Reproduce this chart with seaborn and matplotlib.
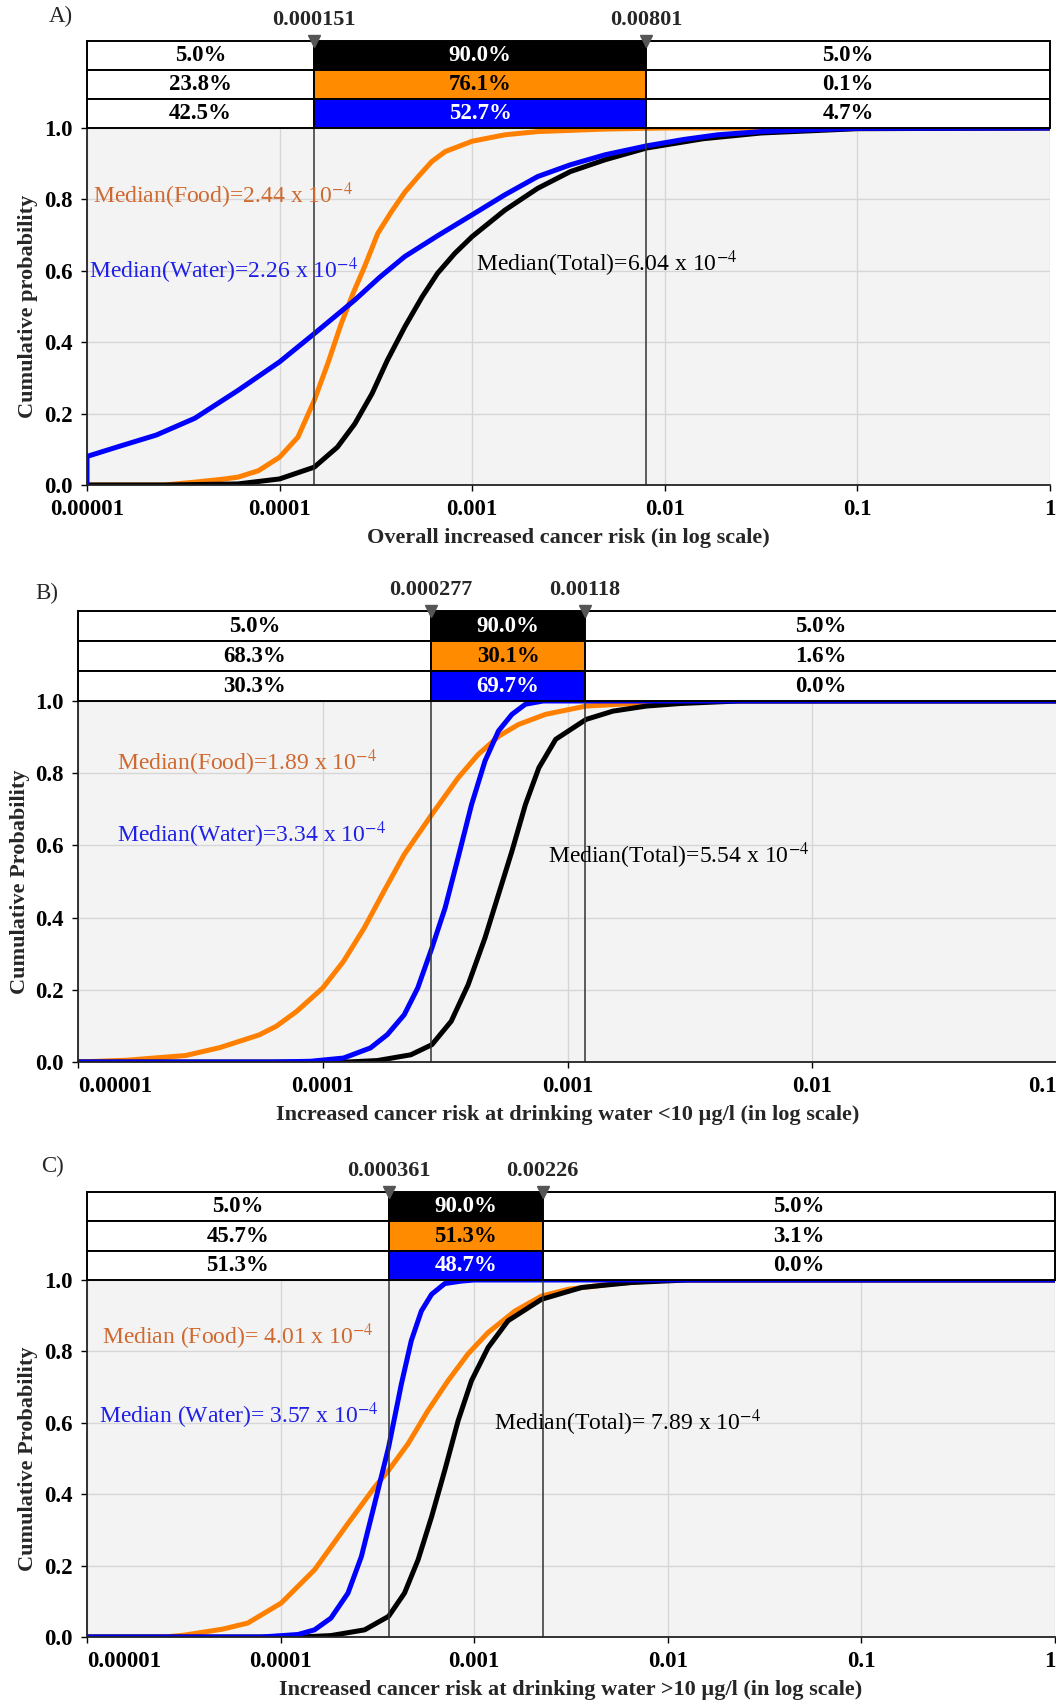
import numpy as np
import pandas as pd
import matplotlib
matplotlib.use('Agg')
import matplotlib.pyplot as plt
from matplotlib.ticker import NullLocator
import seaborn as sns

# ---- values: x is log10(risk), y is cumulative probability ----
# A) overall increased cancer risk
a_food_logx = [-5.0, -4.6, -4.44, -4.3, -4.216, -4.11, -4.0, -3.905, -3.82, -3.75, -3.68, -3.62, -3.56,
               -3.49, -3.42, -3.35, -3.28, -3.21, -3.14, -3.0, -2.83, -2.66, -2.31, -2.0, 0.0]
a_food_p = [0.0, 0.0, 0.008, 0.016, 0.022, 0.04, 0.078, 0.134, 0.237, 0.34, 0.452, 0.535, 0.61,
            0.705, 0.765, 0.82, 0.864, 0.906, 0.934, 0.963, 0.981, 0.99, 0.997, 1.0, 1.0]
a_water_logx = [-5.0, -5.0, -4.84, -4.64, -4.44, -4.216, -4.0, -3.82, -3.61, -3.48, -3.35, -3.18, -3.0,
                -2.83, -2.66, -2.49, -2.31, -2.094, -1.9, -1.725, -1.5, -1.2, -1.0, 0.0]
a_water_p = [0.0, 0.08, 0.107, 0.14, 0.187, 0.265, 0.345, 0.424, 0.518, 0.582, 0.64, 0.698, 0.757,
             0.813, 0.864, 0.897, 0.925, 0.95, 0.968, 0.981, 0.99, 0.996, 0.999, 1.0]
a_total_logx = [-5.0, -4.6, -4.216, -4.0, -3.82, -3.70, -3.61, -3.52, -3.44, -3.35, -3.26, -3.18, -3.09,
                -3.0, -2.83, -2.66, -2.49, -2.31, -2.094, -1.8, -1.5, -1.0, 0.0]
a_total_p = [0.0, 0.0, 0.003, 0.017, 0.05, 0.106, 0.171, 0.256, 0.35, 0.443, 0.527, 0.593, 0.649,
             0.696, 0.77, 0.831, 0.878, 0.911, 0.944, 0.97, 0.986, 0.998, 1.0]
a_cuts = [0.000151, 0.00801]
a_cut_labels = ['0.000151', '0.00801']
a_rows = [['5.0%', '90.0%', '5.0%'], ['23.8%', '76.1%', '0.1%'], ['42.5%', '52.7%', '4.7%']]
a_ticks = [1e-5, 1e-4, 1e-3, 1e-2, 1e-1, 1]
a_tick_labels = ['0.00001', '0.0001', '0.001', '0.01', '0.1', '1']
a_notes = [(-4.97, 0.81, r'Median(Food)=2.44 x 10$^{-4}$', '#d0692f'),
           (-4.99, 0.60, r'Median(Water)=2.26 x 10$^{-4}$', '#2020e6'),
           (-2.98, 0.62, r'Median(Total)=6.04 x 10$^{-4}$', 'black')]

# B) drinking water < 10 ug/l
b_food_logx = [-5.0, -4.8, -4.56, -4.42, -4.26, -4.19, -4.107, -4.0, -3.915, -3.83, -3.75, -3.667,
               -3.554, -3.447, -3.365, -3.28, -3.2, -3.09, -2.924, -2.68, -2.4, -1.0]
b_food_p = [0.0, 0.005, 0.018, 0.04, 0.075, 0.099, 0.14, 0.205, 0.279, 0.372, 0.473, 0.575,
            0.686, 0.787, 0.852, 0.903, 0.935, 0.963, 0.986, 0.995, 1.0, 1.0]
b_water_logx = [-5.0, -4.2, -4.05, -3.915, -3.805, -3.736, -3.667, -3.612, -3.554, -3.50, -3.447,
                -3.392, -3.337, -3.282, -3.227, -3.172, -3.10, -1.0]
b_water_p = [0.0, 0.0, 0.002, 0.011, 0.039, 0.076, 0.131, 0.205, 0.316, 0.427, 0.566,
             0.713, 0.834, 0.917, 0.963, 0.991, 1.0, 1.0]
b_total_logx = [-5.0, -3.9, -3.777, -3.64, -3.554, -3.475, -3.406, -3.337, -3.282, -3.227, -3.172,
                -3.117, -3.048, -2.924, -2.814, -2.677, -2.54, -2.3, -1.0]
b_total_p = [0.0, 0.0, 0.004, 0.02, 0.048, 0.113, 0.214, 0.344, 0.464, 0.584, 0.713,
             0.815, 0.894, 0.949, 0.972, 0.986, 0.993, 1.0, 1.0]
b_cuts = [0.000277, 0.00118]
b_cut_labels = ['0.000277', '0.00118']
b_rows = [['5.0%', '90.0%', '5.0%'], ['68.3%', '30.1%', '1.6%'], ['30.3%', '69.7%', '0.0%']]
b_ticks = [1e-5, 1e-4, 1e-3, 1e-2, 1e-1]
b_tick_labels = ['0.00001', '0.0001', '0.001', '0.01', '0.1']
b_notes = [(-4.84, 0.83, r'Median(Food)=1.89 x 10$^{-4}$', '#d0692f'),
           (-4.84, 0.63, r'Median(Water)=3.34 x 10$^{-4}$', '#2020e6'),
           (-3.08, 0.57, r'Median(Total)=5.54 x 10$^{-4}$', 'black')]

# C) drinking water > 10 ug/l
c_food_logx = [-5.0, -4.6, -4.5, -4.3, -4.17, -3.997, -3.825, -3.652, -3.514, -3.442, -3.342, -3.239,
               -3.135, -3.032, -2.928, -2.79, -2.652, -2.514, -2.273, -2.0, 0.0]
c_food_p = [0.0, 0.0, 0.005, 0.022, 0.039, 0.095, 0.188, 0.318, 0.42, 0.467, 0.541, 0.634,
            0.718, 0.793, 0.853, 0.913, 0.955, 0.974, 0.99, 1.0, 1.0]
c_water_logx = [-5.0, -4.1, -3.91, -3.825, -3.74, -3.652, -3.583, -3.514, -3.442, -3.376, -3.325,
                -3.273, -3.22, -3.152, -3.066, -3.0, 0.0]
c_water_p = [0.0, 0.0, 0.007, 0.02, 0.053, 0.123, 0.225, 0.374, 0.532, 0.709, 0.83,
             0.913, 0.96, 0.99, 0.997, 1.0, 1.0]
c_total_logx = [-5.0, -3.9, -3.74, -3.566, -3.442, -3.36, -3.29, -3.22, -3.152, -3.083, -3.014,
                -2.928, -2.825, -2.652, -2.445, -2.187, -1.9, 0.0]
c_total_p = [0.0, 0.0, 0.004, 0.02, 0.058, 0.123, 0.216, 0.337, 0.467, 0.606, 0.718,
             0.811, 0.886, 0.946, 0.979, 0.993, 1.0, 1.0]
c_cuts = [0.000361, 0.00226]
c_cut_labels = ['0.000361', '0.00226']
c_rows = [['5.0%', '90.0%', '5.0%'], ['45.7%', '51.3%', '3.1%'], ['51.3%', '48.7%', '0.0%']]
c_ticks = [1e-5, 1e-4, 1e-3, 1e-2, 1e-1, 1]
c_tick_labels = ['0.00001', '0.0001', '0.001', '0.01', '0.1', '1']
c_notes = [(-4.92, 0.84, r'Median (Food)= 4.01 x 10$^{-4}$', '#d0692f'),
           (-4.94, 0.62, r'Median (Water)= 3.57 x 10$^{-4}$', '#2020e6'),
           (-2.90, 0.60, r'Median(Total)= 7.89 x 10$^{-4}$', 'black')]

sns.set_style('ticks')
plt.rcParams['font.family'] = ['Liberation Serif', 'DejaVu Serif']
plt.rcParams['mathtext.fontset'] = 'stix'

W, H = 1056, 1705
mid_colors = ['#000000', '#ff8c00', '#0000ff']
mid_text = ['white', 'black', 'white']
palette = {'Food': '#ff8000', 'Water': '#0000ff', 'Total': '#000000'}


def panel(fig, px, curves, cuts, cut_labels, rows, ticks, tick_labels, notes,
          xlabel, ylabel, letter, letter_xy, ylab_x=-0.061, first_ha='center', last_ha='center'):
    l, r, tab_top, t, b = px
    ax = fig.add_axes([l / W, 1 - b / H, (r - l) / W, (b - t) / H])
    tab = fig.add_axes([l / W, 1 - t / H, (r - l) / W, (t - tab_top) / H])

    frames = []
    for name, lx, p in curves:
        frames.append(pd.DataFrame({'risk': np.power(10.0, lx), 'prob': p, 'series': name}))
    df = pd.concat(frames, ignore_index=True)

    ax.set_facecolor('#f3f3f3')
    ax.set_xscale('log')
    sns.lineplot(data=df, x='risk', y='prob', hue='series', hue_order=['Food', 'Total', 'Water'],
                 palette=palette, estimator=None, sort=False, lw=3.6, legend=False, ax=ax,
                 solid_joinstyle='round', solid_capstyle='butt')
    ax.set_xlim(ticks[0], ticks[-1])
    ax.set_ylim(0, 1)
    ax.xaxis.set_minor_locator(NullLocator())
    ax.set_xticks(ticks)
    ax.set_xticklabels(tick_labels, fontsize=16.5, fontweight='bold')
    ax.get_xticklabels()[0].set_ha(first_ha)
    ax.get_xticklabels()[-1].set_ha(last_ha)
    ax.set_yticks([0, 0.2, 0.4, 0.6, 0.8, 1.0])
    ax.set_yticklabels(['0.0', '0.2', '0.4', '0.6', '0.8', '1.0'], fontsize=16.5, fontweight='bold')
    ax.tick_params(length=4, width=1, pad=6, colors='black')
    ax.grid(True, color='#d6d6d6', lw=1)
    ax.set_axisbelow(True)
    for s in ['top', 'right']:
        ax.spines[s].set_visible(False)
    for s in ['left', 'bottom']:
        ax.spines[s].set_color('#222222')
        ax.spines[s].set_linewidth(1.3)
    ax.set_xlabel(xlabel, fontsize=16, fontweight='bold', va='center')
    ax.set_ylabel(ylabel, fontsize=16, fontweight='bold', va='center')
    ax.xaxis.set_label_coords(0.5, -0.148)
    ax.yaxis.set_label_coords(ylab_x, 0.5)
    for c in cuts:
        ax.axvline(c, color='#333333', lw=1.1)
    for lx, p, txt, col in notes:
        ax.text(10 ** lx, p, txt, color=col, fontsize=17, va='center', ha='left')

    # percentile table above the plot
    tab.set_xscale('log')
    tab.set_xlim(ticks[0], ticks[-1])
    tab.set_ylim(0, 1)
    tab.axis('off')
    edges = [ticks[0], cuts[0], cuts[1], ticks[-1]]
    for i, row in enumerate(rows):
        y1 = 1 - i / 3
        y0 = 1 - (i + 1) / 3
        for j, val in enumerate(row):
            fc = mid_colors[i] if j == 1 else 'white'
            tc = mid_text[i] if j == 1 else 'black'
            tab.axvspan(edges[j], edges[j + 1], y0, y1, facecolor=fc, edgecolor='black',
                        lw=1.4, clip_on=False)
            tab.text(np.sqrt(edges[j] * edges[j + 1]), (y0 + y1) / 2, val, color=tc,
                     fontsize=16.5, fontweight='bold', ha='center', va='center')
    for c, lab in zip(cuts, cut_labels):
        tab.plot([c], [1.0], marker='v', color='#555555', ms=9, clip_on=False)
        tab.annotate(lab, xy=(c, 1.0), xytext=(0, 15), textcoords='offset points',
                     ha='center', va='center', fontsize=16, fontweight='bold')
    fig.text(letter_xy[0] / W, 1 - letter_xy[1] / H, letter, fontsize=16.5, va='center', ha='left')
    return ax


fig = plt.figure(figsize=(10.56, 17.05), dpi=100)

panel(fig, (87, 1050, 41, 128, 485),
      [('Food', a_food_logx, a_food_p), ('Water', a_water_logx, a_water_p), ('Total', a_total_logx, a_total_p)],
      a_cuts, a_cut_labels, a_rows, a_ticks, a_tick_labels, a_notes,
      'Overall increased cancer risk (in log scale)', 'Cumulative probability', 'A)', (49, 16))

panel(fig, (78, 1057, 611, 701, 1062),
      [('Food', b_food_logx, b_food_p), ('Water', b_water_logx, b_water_p), ('Total', b_total_logx, b_total_p)],
      b_cuts, b_cut_labels, b_rows, b_ticks, b_tick_labels, b_notes,
      'Increased cancer risk at drinking water <10 µg/l (in log scale)', 'Cumulative Probability',
      'B)', (35, 593), ylab_x=-0.059, first_ha='left', last_ha='right')

panel(fig, (87, 1055, 1192, 1280, 1637),
      [('Food', c_food_logx, c_food_p), ('Water', c_water_logx, c_water_p), ('Total', c_total_logx, c_total_p)],
      c_cuts, c_cut_labels, c_rows, c_ticks, c_tick_labels, c_notes,
      'Increased cancer risk at drinking water >10 µg/l (in log scale)', 'Cumulative Probability',
      'C)', (41, 1166), first_ha='left', last_ha='right')

fig.savefig('out.png', dpi=100)
plt.close()
